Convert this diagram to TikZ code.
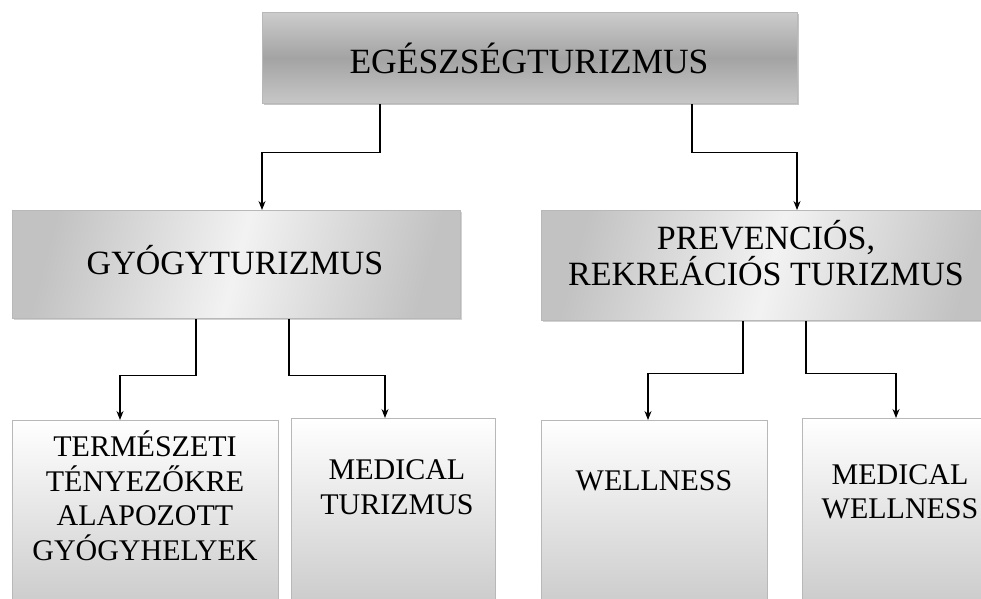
\documentclass[tikz,border=0pt]{standalone}
\usepackage{fontspec}
\setmainfont{Liberation Serif}
\usetikzlibrary{shadows,arrows.meta}
\begin{document}
\begin{tikzpicture}[x=1pt,y=-1pt,
  box/.style={draw=black!28, line width=0.8pt, anchor=north west, inner sep=0pt},
  topbox/.style={box, top color=black!20, bottom color=black!22, middle color=black!36,
     drop shadow={shadow xshift=2pt, shadow yshift=-2pt, opacity=.45}},
  midbox/.style={box, left color=black!24, right color=black!24, middle color=black!5, shading angle=75,
     drop shadow={shadow xshift=2pt, shadow yshift=-2pt, opacity=.35}},
  lowbox/.style={box, top color=white, bottom color=black!24},
  bigtext/.style={font=\fontsize{34}{32}\selectfont, align=center, inner sep=0pt},
  smalltext/.style={font=\fontsize{30}{34.5}\selectfont, align=center, inner sep=0pt},
  arr/.style={-{Stealth[length=9pt,width=7pt]}, line width=1.1pt, black}
]
\useasboundingbox (0,0) rectangle (981,598);
\fill[white] (0,0) rectangle (981,598);
\clip (0,0) rectangle (981,598);

\node[topbox, minimum width=535pt, minimum height=91pt] (top) at (262,12) {};
\node[midbox, minimum width=448pt, minimum height=108pt] (gyogy) at (12,210) {};
\node[midbox, minimum width=460pt, minimum height=110pt] (prev) at (541,210) {};
\node[lowbox, minimum width=266pt, minimum height=220pt] (b1) at (12,420) {};
\node[lowbox, minimum width=204pt, minimum height=220pt] (b2) at (291,418) {};
\node[lowbox, minimum width=226pt, minimum height=220pt] (b3) at (541,420) {};
\node[lowbox, minimum width=220pt, minimum height=220pt] (b4) at (802,418) {};

\node[bigtext, font=\fontsize{35.5}{34}\selectfont] (ttop) at (529,58) {EGÉSZSÉGTURIZMUS};
\node[bigtext] (tgyogy) at (235,260) {GYÓGYTURIZMUS};
\node[bigtext] (tprev) at (766,253) {PREVENCIÓS,\\REKREÁCIÓS TURIZMUS};
\node[smalltext] (tb1) at (145,496) {TERMÉSZETI\\TÉNYEZŐKRE\\ALAPOZOTT\\GYÓGYHELYEK};
\node[smalltext] (tb2) at (397,487) {MEDICAL\\TURIZMUS};
\node[smalltext] (tb3) at (654,481) {WELLNESS};
\node[smalltext] (tb4) at (900,492) {MEDICAL\\WELLNESS};

\draw[arr] ([xshift=118pt]top.south west) -- ++(0,49) -| ([xshift=250pt]gyogy.north west);
\draw[arr] ([xshift=430pt]top.south west) -- ++(0,49) -| ([xshift=256pt]prev.north west);
\draw[arr] ([xshift=184pt]gyogy.south west) -- ++(0,57) -| ([xshift=108pt]b1.north west);
\draw[arr] ([xshift=277pt]gyogy.south west) -- ++(0,57) -| ([xshift=94pt]b2.north west);
\draw[arr] ([xshift=202pt]prev.south west) -- ++(0,53) -| ([xshift=107pt]b3.north west);
\draw[arr] ([xshift=265pt]prev.south west) -- ++(0,53) -| ([xshift=94pt]b4.north west);
\end{tikzpicture}
\end{document}
